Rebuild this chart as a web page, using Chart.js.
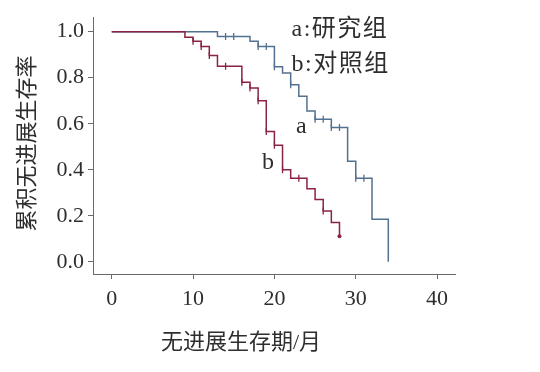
<!DOCTYPE html>
<html><head><meta charset="utf-8">
<script src="https://cdn.jsdelivr.net/npm/chart.js@4"></script>
<style>html,body{margin:0;padding:0;background:#fff}#c{display:block}</style>
</head><body>
<canvas id="c" width="540" height="372"></canvas>
<script>
// Control group (b) Kaplan-Meier steps
const ctrlTimes = [0, 9, 10, 11, 12, 13, 16, 17, 18, 19, 20, 21, 22, 24, 25, 26, 27, 28];
const ctrlSurv  = [1, 0.976, 0.959, 0.936, 0.897, 0.85, 0.78, 0.755, 0.70, 0.566, 0.506, 0.40, 0.363, 0.318, 0.271, 0.221, 0.171, 0.111];
const ctrlCensTimes = [10, 11, 12, 14, 16, 17, 18, 19, 20, 21, 23, 26];
const ctrlCensSurv  = [0.959, 0.936, 0.897, 0.85, 0.78, 0.755, 0.70, 0.566, 0.506, 0.40, 0.363, 0.221];
const ctrlEndTime = [28];
const ctrlEndSurv = [0.111];
// Study group (a)
const studyTimes = [0, 13, 17, 18, 20, 21, 22, 23, 24, 25, 27, 29, 30, 32, 34];
const studySurv  = [1, 0.979, 0.959, 0.936, 0.848, 0.82, 0.769, 0.72, 0.655, 0.62, 0.584, 0.437, 0.363, 0.185, 0];
const studyCensTimes = [14, 15, 18, 19, 20, 22, 25, 26, 27, 28, 30, 31];
const studyCensSurv  = [0.979, 0.979, 0.936, 0.936, 0.848, 0.769, 0.62, 0.62, 0.584, 0.584, 0.363, 0.363];

const xTickValues = [0, 10, 20, 30, 40];
const yTickValues = [0, 0.2, 0.4, 0.6, 0.8, 1.0];
const yTickLabels = ['0.0', '0.2', '0.4', '0.6', '0.8', '1.0'];
const xTitle = '无进展生存期/月';
const yTitle = '累积无进展生存率';
const legendA = 'a:研究组';
const legendB = 'b:对照组';
const curveLabelA = 'a';
const curveLabelB = 'b';

const RED = '#8a2242';
const BLUE = '#52708f';
const TEXT = '#2e2e2e';
const AXIS = '#6a6a6a';
const FONT = '"Liberation Serif","Noto Sans CJK SC",serif';

const pts = (ts, vs) => ts.map((t, i) => ({x: t, y: vs[i]}));

const annot = {
  id: 'annot',
  afterDraw(chart) {
    const {ctx, scales: {x, y}} = chart;
    ctx.save();
    ctx.fillStyle = TEXT;
    ctx.textBaseline = 'middle';
    ctx.font = '22px ' + FONT;
    ctx.textAlign = 'center';
    ctx.fillText(xTitle, 241, 343);
    ctx.save();
    ctx.translate(28, 143.5);
    ctx.rotate(-Math.PI / 2);
    ctx.fillText(yTitle, 0, 0);
    ctx.restore();
    ctx.font = '24px ' + FONT;
    ctx.textAlign = 'left';
    if ('letterSpacing' in ctx) ctx.letterSpacing = '1.5px';
    ctx.fillText(legendA, x.getPixelForValue(22.1), y.getPixelForValue(1.01));
    ctx.fillText(legendB, x.getPixelForValue(22.1), y.getPixelForValue(0.855));
    if ('letterSpacing' in ctx) ctx.letterSpacing = '0px';
    ctx.textAlign = 'center';
    ctx.fillText(curveLabelA, x.getPixelForValue(23.3), y.getPixelForValue(0.585));
    ctx.fillText(curveLabelB, x.getPixelForValue(19.2), y.getPixelForValue(0.43));
    ctx.restore();
  }
};

new Chart(document.getElementById('c'), {
  type: 'line',
  data: {
    datasets: [
      {data: pts(ctrlTimes, ctrlSurv), borderColor: RED, borderWidth: 1.5, stepped: 'before', pointRadius: 0, fill: false, order: 0},
      {type: 'scatter', data: pts(ctrlCensTimes, ctrlCensSurv), borderColor: RED, backgroundColor: RED, pointStyle: 'line', rotation: 90, pointRadius: 3.5, borderWidth: 1.3, showLine: false, order: 0},
      {type: 'scatter', data: pts(ctrlEndTime, ctrlEndSurv), borderColor: RED, backgroundColor: RED, pointStyle: 'circle', pointRadius: 2, borderWidth: 0, showLine: false, order: 0},
      {data: pts(studyTimes, studySurv), borderColor: BLUE, borderWidth: 1.5, stepped: 'before', pointRadius: 0, fill: false, order: 1},
      {type: 'scatter', data: pts(studyCensTimes, studyCensSurv), borderColor: BLUE, backgroundColor: BLUE, pointStyle: 'line', rotation: 90, pointRadius: 3.5, borderWidth: 1.3, showLine: false, order: 1}
    ]
  },
  options: {
    responsive: false,
    animation: false,
    layout: {padding: {top: 13, right: 85, left: 0, bottom: 0}},
    plugins: {legend: {display: false}, tooltip: {enabled: false}},
    scales: {
      x: {
        type: 'linear', min: -2.3, max: 42.2,
        afterFit: s => { s.height = 98; },
        afterBuildTicks: s => { s.ticks = xTickValues.map(v => ({value: v})); },
        grid: {drawOnChartArea: false, drawTicks: true, tickLength: 5, color: AXIS},
        border: {display: true, color: AXIS, width: 1},
        ticks: {color: TEXT, font: {family: FONT, size: 22}, padding: 7, maxRotation: 0}
      },
      y: {
        type: 'linear', min: -0.053, max: 1.063,
        afterFit: s => { s.width = 93; },
        afterBuildTicks: s => { s.ticks = yTickValues.map(v => ({value: v})); },
        grid: {drawOnChartArea: false, drawTicks: true, tickLength: 5, color: AXIS},
        border: {display: true, color: AXIS, width: 1},
        ticks: {color: TEXT, font: {family: FONT, size: 22}, padding: 4,
          callback: (v, i) => yTickLabels[i]}
      }
    }
  },
  plugins: [annot]
});
</script>
</body></html>
